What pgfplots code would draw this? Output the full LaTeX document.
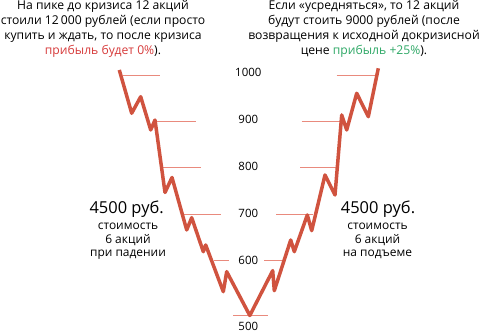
\documentclass[border=0pt]{standalone}
\usepackage{fontspec}
\setmainfont{Open Sans}
\usepackage{pgfplots}
\pgfplotsset{compat=1.18}
\definecolor{lineRed}{HTML}{D0533F}
\definecolor{refRed}{HTML}{E98A7D}
\definecolor{txtRed}{HTML}{D63A3A}
\definecolor{txtGreen}{HTML}{2EA866}
\definecolor{txt}{HTML}{1E1E1E}
\begin{document}
\begin{tikzpicture}
\begin{axis}[
  width=481bp, height=333bp, scale only axis,
  xmin=0, xmax=481, ymin=443.97, ymax=1161.6,
  axis lines=none, clip=false,
  every node/.style={text=txt, inner sep=0pt},
]
% reference levels
\addplot[refRed, line width=0.8bp] coordinates {(123,1000) (160,1000)};
\addplot[refRed, line width=0.8bp] coordinates {(157,900) (196,900)};
\addplot[refRed, line width=0.8bp] coordinates {(163,800) (200.7,800)};
\addplot[refRed, line width=0.8bp] coordinates {(184,700) (220.7,700)};
\addplot[refRed, line width=0.8bp] coordinates {(214.3,600) (229.3,600)};
\addplot[refRed, line width=0.8bp] coordinates {(233,481) (268,481)};
\addplot[refRed, line width=0.8bp] coordinates {(264,600) (283.3,600)};
\addplot[refRed, line width=0.8bp] coordinates {(276,700) (313.3,700)};
\addplot[refRed, line width=0.8bp] coordinates {(300,800) (335.7,800)};
\addplot[refRed, line width=0.8bp] coordinates {(301.7,900) (340.7,900)};
\addplot[refRed, line width=0.8bp] coordinates {(336.7,1000) (377.7,1000)};
% price path
\addplot[lineRed, line width=3.5bp, line join=round, line cap=butt] coordinates {
(119.3,1010.8) (131.7,917.5) (140.7,953.2) (150.7,881.5) (155,903.0)
(165,746.8) (172,779.1) (186.7,666.0) (191.7,692.5) (203.3,619.2)
(205.7,633.7) (223.3,533.0) (226.7,576.1) (249.8,481.7)
(272.7,578.3) (274.3,535.2) (290.7,644.4) (294.3,619.2) (307.3,698.3)
(311.7,664.5) (325,784.5) (335,741.4) (341.7,913.8) (346.7,881.5)
(356.7,960.6) (368.3,910.1) (378.3,1014.4)};
% tick labels
\begin{scope}[font={\fontsize{11.5}{13}\selectfont}]
\node[anchor=base] at (axis cs:248.3,995.7) {1000};
\node[anchor=base] at (axis cs:248.3,895.1) {900};
\node[anchor=base] at (axis cs:248.3,794.4) {800};
\node[anchor=base] at (axis cs:248.3,692.5) {700};
\node[anchor=base] at (axis cs:248.3,591.8) {600};
\node[anchor=base] at (axis cs:248.3,449.5) {500};
\end{scope}
% titles
\begin{scope}[font={\fontsize{12.2}{15}\selectfont}]
\node[anchor=base] at (axis cs:103,1140.1) {На пике до кризиса 12 акций};
\node[anchor=base] at (axis cs:103,1107.8) {стоили 12\,000 рублей (если просто};
\node[anchor=base] at (axis cs:103,1075.4) {купить и ждать, то после кризиса};
\node[anchor=base] at (axis cs:103,1043.1) {{\color{txtRed}прибыль будет 0\%}).};
\node[anchor=base] at (axis cs:364,1140.1) {Если «усредняться», то 12 акций};
\node[anchor=base] at (axis cs:364,1107.8) {будут стоить 9000 рублей (после};
\node[anchor=base] at (axis cs:364,1075.4) {возвращения к исходной докризисной};
\node[anchor=base] at (axis cs:364,1043.1) {цене {\color{txtGreen}прибыль +25\%}).};
\end{scope}
% side blocks
\begin{scope}[font={\fontsize{16.5}{18}\selectfont}]
\node[anchor=base] at (axis cs:126.7,701.9) {4500 руб.};
\node[anchor=base] at (axis cs:378,701.9) {4500 руб.};
\end{scope}
\begin{scope}[font={\fontsize{12}{13}\selectfont}]
\node[anchor=base] at (axis cs:128,666.0) {стоимость};
\node[anchor=base] at (axis cs:128,637.3) {6 акций};
\node[anchor=base] at (axis cs:128,608.9) {при падении};
\node[anchor=base] at (axis cs:377.5,666.0) {стоимость};
\node[anchor=base] at (axis cs:377.5,637.3) {6 акций};
\node[anchor=base] at (axis cs:377.5,608.9) {на подъеме};
\end{scope}
\end{axis}
\pgfresetboundingbox
\useasboundingbox (0,0) rectangle (481bp,333bp);
\end{tikzpicture}
\end{document}
